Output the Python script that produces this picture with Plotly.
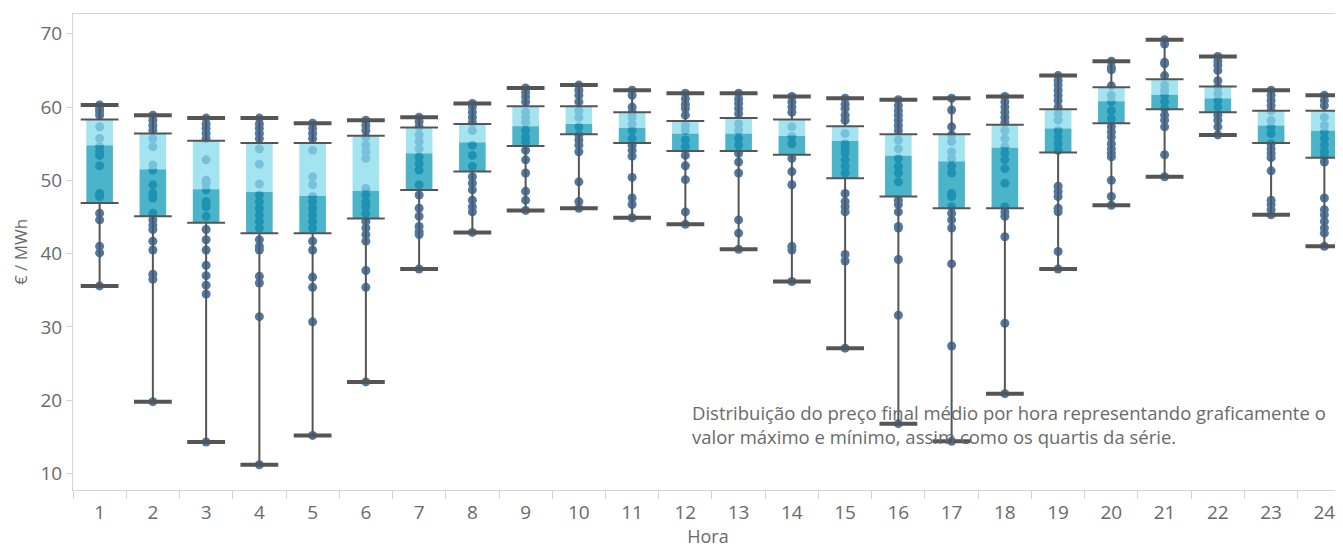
"""Box plot of hourly average final price (Tableau-style)."""
import plotly.graph_objects as go

# ---- data -------------------------------------------------------------
horas = [str(h) for h in range(1, 25)]

minimo = [35.6, 19.8, 14.3, 11.2, 15.2, 22.5, 37.9, 42.9, 45.9, 46.2, 44.9, 44.0,
          40.6, 36.2, 27.1, 16.8, 14.4, 20.9, 37.9, 46.6, 50.5, 56.2, 45.3, 41.0]
q1 = [46.9, 45.1, 44.2, 42.8, 42.8, 44.8, 48.7, 51.2, 54.7, 56.3, 55.1, 54.0,
      54.0, 53.5, 50.3, 47.8, 46.2, 46.2, 53.8, 57.8, 59.7, 59.3, 55.1, 53.1]
mediana = [54.8, 51.5, 48.8, 48.4, 47.9, 48.6, 53.7, 55.2, 57.4, 57.7, 57.2, 56.4,
           56.4, 56.1, 55.4, 53.4, 52.6, 54.5, 57.1, 60.8, 61.7, 61.2, 57.5, 56.8]
q3 = [58.3, 56.4, 55.4, 55.1, 55.1, 56.1, 57.2, 57.7, 60.1, 60.1, 59.3, 58.1,
      58.5, 58.3, 57.4, 56.3, 56.3, 57.6, 59.7, 62.7, 63.8, 62.8, 59.5, 59.5]
maximo = [60.3, 58.9, 58.5, 58.5, 57.8, 58.2, 58.6, 60.5, 62.6, 63.0, 62.3, 61.9,
          61.9, 61.45, 61.2, 61.0, 61.2, 61.45, 64.3, 66.25, 69.2, 66.9, 62.3, 61.6]

# individual values per hour (dots)
precos = [
    [60.3, 59.8, 59.4, 58.9, 57.3, 55.7, 54.6, 53.9, 53.4, 52.0, 48.2, 47.8, 45.5, 44.6, 41.0, 40.1, 35.6],
    [58.9, 58.2, 57.5, 56.8, 55.7, 54.6, 52.1, 51.4, 49.4, 48.2, 47.6, 45.5, 44.6, 43.9, 43.3, 41.7, 40.5, 37.2, 36.5, 19.8],
    [58.5, 57.7, 57.1, 56.4, 55.7, 52.8, 50.0, 49.6, 48.7, 47.1, 46.4, 45.1, 43.3, 41.9, 40.5, 38.4, 37.0, 35.7, 34.5, 14.3],
    [58.5, 57.7, 57.1, 56.4, 55.7, 54.3, 52.2, 49.5, 48.0, 47.1, 46.2, 45.3, 44.4, 43.5, 41.9, 41.0, 40.5, 36.9, 36.0, 31.4, 11.2],
    [57.8, 57.1, 56.4, 55.7, 54.1, 50.5, 49.4, 47.8, 47.1, 46.2, 45.3, 44.4, 43.5, 41.7, 40.5, 36.8, 35.4, 30.7, 15.2],
    [58.2, 57.5, 56.8, 55.9, 54.8, 53.9, 53.0, 48.9, 48.0, 47.1, 46.4, 45.5, 44.4, 43.5, 42.6, 41.7, 37.7, 35.4, 22.5],
    [58.6, 58.0, 57.3, 56.2, 55.3, 54.3, 53.2, 52.3, 51.4, 49.4, 48.0, 46.2, 45.1, 43.7, 43.0, 42.6, 37.9],
    [60.5, 60.0, 59.3, 58.6, 57.9, 56.8, 54.8, 53.4, 51.9, 50.5, 49.6, 48.7, 47.3, 46.4, 45.7, 42.9],
    [62.6, 62.0, 61.4, 60.7, 59.3, 58.6, 57.9, 56.8, 55.9, 55.2, 54.1, 52.8, 51.0, 48.5, 47.3, 45.9],
    [63.0, 62.3, 61.6, 60.7, 59.5, 58.6, 57.3, 56.2, 55.5, 54.8, 53.9, 49.8, 47.1, 46.2],
    [62.3, 61.6, 60.0, 59.3, 58.6, 57.7, 56.8, 55.7, 54.8, 54.1, 53.3, 50.4, 47.6, 46.7, 44.9],
    [61.9, 61.1, 60.4, 59.8, 58.9, 57.5, 56.8, 55.5, 54.6, 53.4, 52.0, 50.1, 45.7, 44.0],
    [61.9, 61.1, 60.5, 59.8, 59.1, 57.7, 56.8, 55.7, 54.8, 53.7, 52.5, 51.0, 44.6, 42.8, 40.6],
    [61.45, 60.7, 60.0, 59.3, 57.3, 56.0, 55.0, 53.0, 51.2, 49.4, 41.0, 40.5, 36.2],
    [61.2, 60.4, 59.8, 58.9, 58.2, 56.4, 55.0, 54.3, 53.7, 52.8, 51.9, 51.0, 48.2, 47.1, 46.4, 45.7, 39.9, 39.0, 27.1],
    [61.0, 60.2, 59.5, 58.9, 58.2, 57.5, 56.8, 55.5, 54.3, 53.0, 51.9, 51.0, 49.8, 47.3, 46.7, 45.7, 43.7, 43.5, 39.2, 31.6, 16.8],
    [61.2, 59.6, 57.3, 56.2, 55.3, 53.9, 53.0, 51.9, 51.0, 48.2, 47.8, 46.4, 45.5, 44.6, 43.5, 38.6, 27.4, 14.4],
    [61.45, 60.7, 60.0, 59.3, 58.6, 57.9, 56.8, 55.7, 54.6, 53.7, 52.8, 51.6, 49.6, 46.4, 45.7, 45.1, 42.3, 30.5, 20.9],
    [64.3, 63.6, 63.0, 62.3, 61.6, 60.9, 60.0, 59.1, 58.2, 56.8, 55.9, 55.0, 54.1, 49.2, 48.5, 47.8, 46.2, 45.7, 40.3, 37.9],
    [66.25, 65.4, 65.1, 62.9, 61.6, 60.7, 59.5, 58.4, 57.3, 56.6, 55.9, 55.0, 54.3, 53.7, 53.2, 50.0, 47.8, 46.6],
    [69.2, 68.6, 66.1, 65.9, 64.3, 63.0, 62.3, 61.6, 60.7, 59.8, 58.9, 58.2, 57.3, 53.5, 50.5],
    [66.9, 66.3, 65.7, 65.0, 63.6, 62.7, 61.8, 60.9, 60.0, 58.9, 58.2, 57.3, 56.2],
    [62.3, 61.6, 60.9, 60.2, 59.5, 58.2, 57.3, 56.4, 55.0, 54.3, 53.7, 53.1, 51.3, 47.3, 46.7, 46.0, 45.3],
    [61.6, 60.9, 60.2, 58.6, 57.5, 56.6, 55.7, 54.8, 53.9, 53.2, 52.5, 47.6, 46.0, 45.3, 44.4, 43.5, 42.8, 41.0],
]

nota = ("Distribuição do preço final médio por hora representando graficamente o<br>"
        "valor máximo e mínimo, assim como os quartis da série.")

# ---- style --------------------------------------------------------------
FONT = "Open Sans"
TXT = "#6a6a6a"
AXIS = "#d4d4d4"
DOT = "#4e79a7"
DARK = "rgba(15,155,182,0.75)"
LIGHT = "rgba(133,219,235,0.75)"
WHISK = "#555555"

fig = go.Figure()

# dots on the base subplot
dot_x, dot_y = [], []
for h, vals in zip(horas, precos):
    dot_x += [h] * len(vals)
    dot_y += vals
fig.add_trace(go.Scatter(
    x=dot_x, y=dot_y, mode="markers",
    marker=dict(color=DOT, size=9, line=dict(width=0)),
    hoverinfo="y", showlegend=False,
))

# boxes on an overlaid subplot so they sit above the dots
fig.add_trace(go.Bar(
    x=horas, y=[m - a for m, a in zip(mediana, q1)], base=q1,
    marker=dict(color=DARK, line=dict(width=0)), width=0.5,
    xaxis="x2", yaxis="y2", showlegend=False, hoverinfo="skip",
))
fig.add_trace(go.Bar(
    x=horas, y=[b - m for m, b in zip(mediana, q3)], base=mediana,
    marker=dict(color=LIGHT, line=dict(width=0)), width=0.5,
    xaxis="x2", yaxis="y2", showlegend=False, hoverinfo="skip",
))

# whiskers
wx, wy = [], []
for h, lo, a, b, hi in zip(horas, minimo, q1, q3, maximo):
    wx += [h, h, None, h, h, None]
    wy += [lo, a, None, b, hi, None]
fig.add_trace(go.Scatter(
    x=wx, y=wy, mode="lines", line=dict(color=WHISK, width=2),
    xaxis="x2", yaxis="y2", showlegend=False, hoverinfo="skip",
))

# quartile edges
fig.add_trace(go.Scatter(
    x=horas * 2, y=q1 + q3, mode="markers",
    marker=dict(symbol="line-ew", size=27, line=dict(color=WHISK, width=2)),
    xaxis="x2", yaxis="y2", showlegend=False, hoverinfo="skip",
))
# caps
fig.add_trace(go.Scatter(
    x=horas * 2, y=minimo + maximo, mode="markers",
    marker=dict(symbol="line-ew", size=27, line=dict(color=WHISK, width=4)),
    xaxis="x2", yaxis="y2", showlegend=False, hoverinfo="skip",
))

xr = [-0.5, 23.35]
yr = [7.75, 72.7]

# the page body has an 8px margin, so the figure is 8px smaller than the window
fig.update_layout(
    width=1335, height=540,
    margin=dict(l=65, r=0, t=6, b=58),
    paper_bgcolor="white", plot_bgcolor="white",
    font=dict(family=FONT, color=TXT, size=18),
    barmode="overlay",
    xaxis=dict(
        type="category", categoryorder="array", categoryarray=horas,
        range=xr, showgrid=False, zeroline=False, automargin=False,
        showline=True, linecolor=AXIS, linewidth=1, mirror=True,
        ticks="outside", tickson="boundaries", ticklen=8, tickcolor=AXIS,
        ticklabelstandoff=5,
        tickfont=dict(size=19, color=TXT),
        title=dict(text="Hora", font=dict(size=18, color=TXT), standoff=15),
    ),
    yaxis=dict(
        range=yr, tickvals=[10, 20, 30, 40, 50, 60, 70],
        showgrid=False, zeroline=False, automargin=False,
        showline=True, linecolor=AXIS, linewidth=1,
        ticks="outside", ticklen=6, tickcolor=AXIS,
        tickfont=dict(size=19, color=TXT),
        title=dict(text="€ / MWh", font=dict(size=17, color=TXT), standoff=8),
    ),
    xaxis2=dict(
        type="category", categoryorder="array", categoryarray=horas,
        range=xr, overlaying="x", visible=False,
    ),
    yaxis2=dict(range=yr, overlaying="y", visible=False),
    annotations=[dict(
        text=nota, xref="paper", yref="paper", x=0.486, y=0.194,
        xanchor="left", yanchor="top", align="left", showarrow=False,
        font=dict(family=FONT, size=18.5, color=TXT),
    )],
)

fig.write_html("out.html")
